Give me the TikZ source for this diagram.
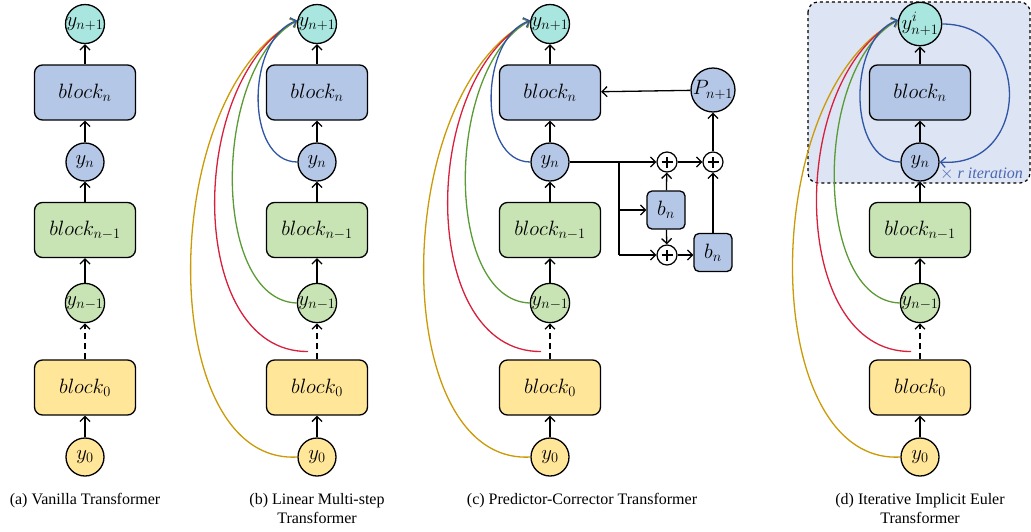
\documentclass[tikz,border=0pt]{standalone}
\usepackage{fontspec}
\setmainfont{Liberation Serif}
\usetikzlibrary{arrows.meta}
\definecolor{ccyan}{HTML}{A8E6DF}
\definecolor{cblue}{HTML}{B4C7E7}
\definecolor{cgreen}{HTML}{C8E4B4}
\definecolor{cyellow}{HTML}{FFE699}
\definecolor{cbg}{HTML}{DDE4F3}
\definecolor{lgold}{HTML}{CC9A06}
\definecolor{lred}{HTML}{D6203C}
\definecolor{lgreen}{HTML}{5B9B35}
\definecolor{lblue}{HTML}{2F55A6}
\definecolor{ltext}{HTML}{4A68B2}
\begin{document}
\begin{tikzpicture}[x=1pt,y=-1pt,
  mathtxt/.style={font=\fontsize{22}{26}\selectfont},
  circ/.style={circle,draw,line width=1.3pt,minimum size=38pt,inner sep=0pt,mathtxt},
  blk/.style={rectangle,rounded corners=8pt,draw,line width=1.3pt,minimum width=101pt,minimum height=55pt,inner sep=0pt,mathtxt},
  sblk/.style={rectangle,rounded corners=5pt,draw,line width=1.3pt,minimum width=38pt,minimum height=38pt,inner sep=0pt,mathtxt,fill=cblue},
  plusc/.style={circle,draw,line width=1.2pt,minimum size=20pt,inner sep=0pt,fill=white,
    path picture={\draw[line width=2pt] ([xshift=-5.5pt]path picture bounding box.center) -- ([xshift=5.5pt]path picture bounding box.center);
      \draw[line width=2pt] ([yshift=-5.5pt]path picture bounding box.center) -- ([yshift=5.5pt]path picture bounding box.center);}},
  arr/.style={line width=1.3pt,-{Straight Barb[length=5pt,width=10pt,line width=1.3pt]}},
  darr/.style={arr,dash pattern=on 6pt off 4pt},
  curv/.style={line width=1.3pt,-{Straight Barb[length=5pt,width=10pt,line width=1.2pt]}},
  captxt/.style={font=\fontsize{16}{19.5}\selectfont,align=center,anchor=north,inner sep=0pt},
  bgbox/.style={rounded corners=10pt,draw,dashed,line width=1.2pt,fill=cbg}
]
\useasboundingbox (0,0) rectangle (1031,531);

% background for (d)
\coordinate (bgtl) at (808,2);
\coordinate (bgbr) at (1030,183);
\path[bgbox] (bgtl) rectangle (bgbr);

\foreach \p/\cx in {a/85,b/317,c/550,d/920}{
  \node[circ,fill=cyellow] (y0\p) at (\cx,457) {$y_0$};
  \node[blk,fill=cyellow] (b0\p) at (\cx,387.5) {$block_0$};
  \node[circ,fill=cgreen] (ym\p) at (\cx,303) {$y_{n-1}$};
  \node[blk,fill=cgreen] (bm\p) at (\cx,230) {$block_{n-1}$};
  \node[circ,fill=cblue] (yn\p) at (\cx,162) {$y_n$};
  \node[blk,fill=cblue] (bn\p) at (\cx,92.5) {$block_n$};
  \draw[arr] (y0\p) -- (b0\p);
  \draw[darr] (b0\p) -- (ym\p);
  \draw[arr] (ym\p) -- (bm\p);
  \draw[arr] (bm\p) -- (yn\p);
  \draw[arr] (yn\p) -- (bn\p);
}
\foreach \p/\cx in {a/85,b/317,c/550}{
  \node[circ,fill=ccyan] (yp\p) at (\cx,24) {$y_{n+1}$};
  \draw[arr] (bn\p) -- (yp\p);
}
\node[circ,fill=ccyan] (ypd) at (920,24) {$y^{i}_{n+1}$};
\draw[arr] (bnd) -- (ypd);

% multi-step curves for (b),(c),(d)
\foreach \p/\cx in {b/317,c/550,d/920}{
  \coordinate (rs\p) at (\cx-9,351.5);
  \draw[curv,lgold] (y0\p.west) .. controls +(-143,8) and +(-141,73) .. (yp\p.170);
  \draw[curv,lred] (rs\p) .. controls +(-123,1) and +(-111,58) .. (yp\p.170);
  \draw[curv,lgreen] (ym\p.west) .. controls +(-86,-3) and +(-86,48) .. (yp\p.170);
  \draw[curv,lblue] (yn\p.west) .. controls +(-53,0) and +(-51,18) .. (yp\p.170);
}

% (c) predictor-corrector
\node[circ,fill=cblue,minimum size=40pt] (P) at (713,90) {$P_{n+1}$};
\node[plusc] (p1) at (667,162) {};
\node[plusc] (p2) at (713,162) {};
\node[sblk] (s1) at (666,210) {$b_n$};
\node[plusc] (p3) at (667,255) {};
\node[sblk] (s2) at (713,252.5) {$b_n$};
\coordinate (br) at (619,162);
\draw[arr] (ync) -- (p1);
\draw[line width=1.3pt] (br) -- (br |- p3);
\draw[arr] (br |- s1) -- (s1);
\draw[arr] (br |- p3) -- (p3);
\draw[arr] (s1) -- (p1);
\draw[arr] (s1) -- (p3);
\draw[arr] (p3) -- (p3 -| s2.west);
\draw[arr] (p1) -- (p2);
\draw[arr] (s2) -- (p2);
\draw[arr] (p2) -- (P);
\draw[arr] (P) -- (bnc);

% (d) iteration loop
\draw[curv,lblue] (ypd.east) .. controls +(91,0) and +(91,7) .. (ynd.east);
\node[anchor=base west,inner sep=0pt,text=ltext,font=\fontsize{16}{16}\selectfont] (it) at (940,178) {$\times$ \textit{r iteration}};

% captions
\node[captxt] (ca) at (85,493) {(a) Vanilla Transformer};
\node[captxt] (cb) at (317,493) {(b) Linear Multi-step\\Transformer};
\node[captxt] (cc) at (582,493) {(c) Predictor-Corrector Transformer};
\node[captxt] (cd) at (920,493) {(d) Iterative Implicit Euler\\Transformer};
\end{tikzpicture}
\end{document}
